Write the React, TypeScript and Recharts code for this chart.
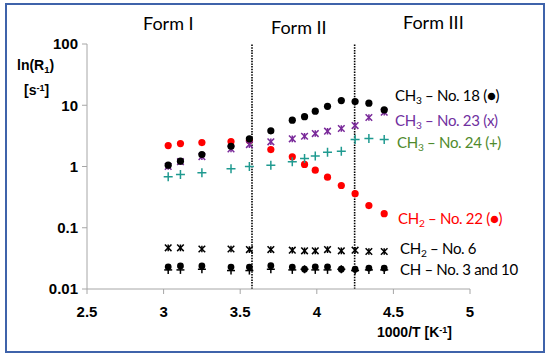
import React from 'react';
import { ScatterChart, Scatter, XAxis, YAxis, ReferenceLine } from 'recharts';

// 1000/T values shared by all series
const invTemp = [3.03, 3.11, 3.25, 3.44, 3.56, 3.7, 3.84, 3.92, 3.99, 4.07, 4.16, 4.25, 4.34, 4.44];

const ch3No18 = [1.05, 1.22, 1.57, 2.14, 2.83, 3.82, 5.7, 6.5, 8.0, 9.6, 11.9, 11.5, 10.8, 8.4];
const ch3No23 = [1.0, 1.2, 1.45, 1.94, 2.28, 2.53, 2.83, 3.12, 3.45, 3.77, 4.17, 4.66, 6.3, 7.7];
const ch3No24 = [0.68, 0.74, 0.79, 0.92, 1.0, 1.05, 1.19, 1.35, 1.49, 1.71, 1.78, 2.76, 2.86, 2.76];
const ch2No22 = [2.2, 2.37, 2.46, 2.56, 2.65, 1.89, 1.44, 1.08, 0.87, 0.67, 0.49, 0.36, 0.23, 0.17];
const ch2No6 = [0.047, 0.047, 0.045, 0.045, 0.044, 0.044, 0.043, 0.042, 0.042, 0.044, 0.042, 0.043, 0.041, 0.041];
const chNo3 = [0.023, 0.0238, 0.0238, 0.0228, 0.0228, 0.024, 0.0228, 0.021, 0.023, 0.023, 0.021, 0.021, 0.022, 0.022];
const chNo10 = [0.0205, 0.0205, 0.021, 0.02, 0.02, 0.021, 0.0205, 0.021, 0.0205, 0.0205, 0.021, 0.02, 0.0205, 0.0205];

const xTicks = [2.5, 3, 3.5, 4, 4.5, 5];
const yTicks = [0.01, 0.1, 1, 10, 100];
const formBounds = [3.577, 4.247];

const toPoints = (vals: number[]) => vals.map((y, i) => ({ x: invTemp[i], y }));

const dot = (color: string, r: number) => (p: any) => <circle cx={p.cx} cy={p.cy} r={r} fill={color} />;

const plus = (color: string, s: number) => (p: any) => (
  <g stroke={color} strokeWidth={1.5}>
    <line x1={p.cx - s} y1={p.cy} x2={p.cx + s} y2={p.cy} />
    <line x1={p.cx} y1={p.cy - s} x2={p.cx} y2={p.cy + s} />
  </g>
);

// excel-style star marker: an x with a vertical stroke
const star = (color: string, s: number) => (p: any) => (
  <g stroke={color} strokeWidth={1.5}>
    <line x1={p.cx - s} y1={p.cy - s} x2={p.cx + s} y2={p.cy + s} />
    <line x1={p.cx - s} y1={p.cy + s} x2={p.cx + s} y2={p.cy - s} />
    <line x1={p.cx} y1={p.cy - s} x2={p.cx} y2={p.cy + s} />
  </g>
);

const tickStyle = { fontFamily: 'Liberation Sans, Arial', fontWeight: 700, fontSize: 15, fill: '#000' };
const labelFont = 'Lato, "Open Sans", sans-serif';

const Sub = ({ children }: { children: React.ReactNode }) => (
  <span style={{ fontSize: '0.68em', position: 'relative', top: '0.3em' }}>{children}</span>
);
const Sup = ({ children }: { children: React.ReactNode }) => (
  <span style={{ fontSize: '0.65em', position: 'relative', top: '-0.45em' }}>{children}</span>
);

const Label = ({ x, y, color, size = 15, bold = false, spacing = -0.3, children }: any) => (
  <div
    style={{
      position: 'absolute',
      left: x,
      top: y,
      transform: 'translateY(-50%)',
      color,
      fontSize: size,
      fontFamily: bold ? 'Liberation Sans, Arial' : labelFont,
      fontWeight: bold ? 700 : 400,
      letterSpacing: bold ? 0 : spacing,
      whiteSpace: 'nowrap',
      lineHeight: 1,
    }}
  >
    {children}
  </div>
);

export default function App() {
  return (
    <div style={{ position: 'absolute', left: 0, top: 0, width: 550, height: 360, background: '#fff' }}>
      <div
        style={{
          position: 'absolute',
          left: 5,
          top: 3,
          width: 540,
          height: 350,
          border: '2px solid #3f63aa',
          boxSizing: 'border-box',
        }}
      />
      <div style={{ position: 'absolute', left: 0, top: 0 }}>
        <ScatterChart width={550} height={360} margin={{ top: 44, right: 80, left: 47, bottom: 41 }}>
          <XAxis
            type="number"
            dataKey="x"
            domain={[2.5, 5]}
            ticks={xTicks}
            height={30}
            tick={tickStyle}
            tickSize={5}
            tickMargin={12}
            stroke="#a6a6a6"
            tickFormatter={(v) => String(v)}
          />
          <YAxis
            type="number"
            dataKey="y"
            scale="log"
            domain={[0.01, 100]}
            allowDataOverflow
            ticks={yTicks}
            width={40}
            tick={tickStyle}
            tickSize={5}
            tickMargin={4}
            stroke="#a6a6a6"
            tickFormatter={(v) => String(v)}
          />
          {formBounds.map((b) => (
            <ReferenceLine key={b} x={b} stroke="#000" strokeWidth={1.6} strokeDasharray="1.5 1.2" />
          ))}
          <Scatter data={toPoints(ch2No22)} shape={dot('#ff0000', 3.6)} isAnimationActive={false} />
          <Scatter data={toPoints(ch3No24)} shape={plus('#1f9a90', 4.5)} isAnimationActive={false} />
          <Scatter data={toPoints(ch3No23)} shape={star('#7a2a9a', 3.3)} isAnimationActive={false} />
          <Scatter data={toPoints(ch3No18)} shape={dot('#000', 3.6)} isAnimationActive={false} />
          <Scatter data={toPoints(ch2No6)} shape={star('#000', 3.3)} isAnimationActive={false} />
          <Scatter data={toPoints(chNo10)} shape={plus('#000', 4)} isAnimationActive={false} />
          <Scatter data={toPoints(chNo3)} shape={dot('#000', 3.4)} isAnimationActive={false} />
        </ScatterChart>
      </div>

      <Label x={143} y={23} color="#000" size={18} spacing={0}>Form I</Label>
      <Label x={271} y={27} color="#000" size={18} spacing={0}>Form II</Label>
      <Label x={403} y={22} color="#000" size={18} spacing={0}>Form III</Label>

      <Label x={17} y={65} color="#000" size={14} bold>ln(R<Sub>1</Sub>)</Label>
      <Label x={24} y={90} color="#000" size={14} bold>[s<Sup>-1</Sup>]</Label>
      <Label x={377} y={332} color="#000" size={14} bold>1000/T [K<Sup>-1</Sup>]</Label>

      <Label x={395} y={95} color="#000">CH<Sub>3</Sub> – No. 18 (●)</Label>
      <Label x={395} y={120} color="#7030a0">CH<Sub>3</Sub> – No. 23 (x)</Label>
      <Label x={397} y={142} color="#4f8a2c">CH<Sub>3</Sub> – No. 24 (+)</Label>
      <Label x={398} y={218} color="#ff0000">CH<Sub>2</Sub> – No. 22 (●)</Label>
      <Label x={400} y={248} color="#000">CH<Sub>2</Sub> – No. 6</Label>
      <Label x={400} y={269} color="#000">CH – No. 3 and 10</Label>
    </div>
  );
}
